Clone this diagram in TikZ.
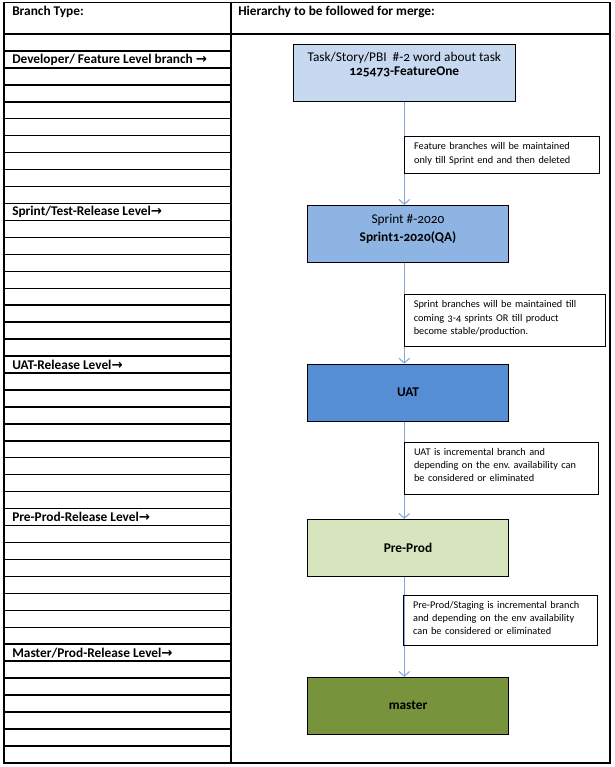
\documentclass[tikz,border=0pt]{standalone}
\usepackage{fontspec}
\setmainfont{Carlito}[Numbers=OldStyle]
\newfontfamily\arrowfont{DejaVu Sans}
\usetikzlibrary{arrows.meta}

\definecolor{taskfill}{HTML}{C6D9F1}
\definecolor{sprintfill}{HTML}{8DB4E2}
\definecolor{uatfill}{HTML}{558ED5}
\definecolor{prodfill}{HTML}{D7E4BD}
\definecolor{masterfill}{HTML}{77933C}
\definecolor{flowblue}{HTML}{86A8D6}

\newcommand{\levelarrow}{{\arrowfont\bfseries →}}

\begin{document}
\begin{tikzpicture}[
  x=0.75pt, y=-0.75pt,
  every node/.style={font=\fontsize{10}{12}\selectfont},
  rowlabel/.style={anchor=west, inner sep=0pt, font=\fontsize{10}{12}\selectfont\bfseries},
  branch/.style={draw, line width=0.7pt, minimum width=151pt, minimum height=42.75pt,
                 align=center, inner sep=0pt},
  note/.style={draw, line width=0.7pt, anchor=north west, align=left,
               inner xsep=7pt, inner ysep=4.5pt,
               font=\fontsize{7.7}{10}\selectfont},
  flow/.style={draw=flowblue, line width=0.8pt, -{Straight Barb[length=3.5pt,width=8pt]}},
  >=stealth
]
\useasboundingbox (0,0) rectangle (614,767);

% table
\draw[line width=1.4pt] (4,2.5) rectangle (610,763);
\draw[line width=1.2pt] (231,2.5) -- (231,763);
\draw[line width=1.2pt] (4,34) -- (610,34);
\foreach \i in {1,...,42}
  \draw[line width=1.1pt] (4,34+16.95*\i) -- (231,34+16.95*\i);

% headers
\node[rowlabel, anchor=north west] (hdrtype)  at (12,6)  {Branch Type:};
\node[rowlabel, anchor=north west] (hdrmerge) at (238,6) {Hierarchy to be followed for merge:};

% level labels
\node[rowlabel] (lvldev)    at (12,34+16.95*1.5)  {Developer/ Feature Level branch \levelarrow};
\node[rowlabel] (lvlsprint) at (12,34+16.95*10.5) {Sprint/Test-Release Level\levelarrow};
\node[rowlabel] (lvluat)    at (12,34+16.95*19.5) {UAT-Release Level\levelarrow};
\node[rowlabel] (lvlpre)    at (12,34+16.95*28.5) {Pre-Prod-Release Level\levelarrow};
\node[rowlabel] (lvlmaster) at (12,34+16.95*36.5) {Master/Prod-Release Level\levelarrow};

% branches
\node[branch, fill=taskfill, minimum width=166.5pt, text depth=13pt] (task) at (404.3,72.6)
  {Task/Story/PBI \ \#-2 word about task\\[-1.5pt] \textbf{125473-FeatureOne}};
\node[branch, fill=sprintfill, text depth=9pt] (sprint) at (408,233.8)
  {Sprint \#-2020\\[1.5pt] \textbf{Sprint1-2020(QA)}};
\node[branch, fill=uatfill]    (uat)    at (408,392.6) {\textbf{UAT}};
\node[branch, fill=prodfill]   (preprod) at (408,547.8) {\textbf{Pre-Prod}};
\node[branch, fill=masterfill] (master) at (408,705.8) {\textbf{master}};

% flow
\draw[flow] (task.south) -- (task.south |- sprint.north);
\draw[flow] (task.south |- sprint.south) -- (task.south |- uat.north);
\draw[flow] (task.south |- uat.south) -- (task.south |- preprod.north);
\draw[flow] (task.south |- preprod.south) -- (task.south |- master.north);

% notes
\node[note, text width=131.8pt, text depth=13pt] (notefeat) at (404.3,136.3)
  {Feature branches will be maintained\\only till Sprint end and then deleted};
\node[note, text width=136.5pt, text depth=24.8pt] (notesprint) at (404,294.3)
  {Sprint branches will be maintained till\\coming 3-4 sprints OR till product\\become stable/production.};
\node[note, text width=131.5pt, text depth=25.1pt] (noteuat) at (404.3,441.7)
  {UAT is incremental branch and\\depending on the env.\ availability can\\be considered or eliminated};
\node[note, text width=131.5pt, text depth=23.6pt] (notepre) at (403.3,594.7)
  {Pre-Prod/Staging is incremental branch\\and depending on the env availability\\can be considered or eliminated};
\end{tikzpicture}
\end{document}
